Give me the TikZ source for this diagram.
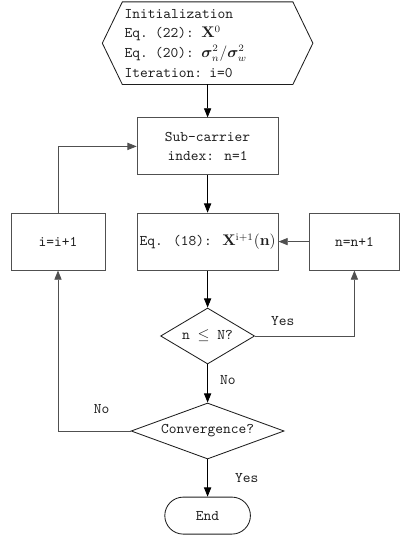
\documentclass[tikz,border=0pt]{standalone}
\usepackage{amsmath,bm}
\usetikzlibrary{arrows.meta,shapes.geometric,shapes.misc}
\definecolor{FlowInk}{HTML}{1E1E1E}
\definecolor{FlowRule}{HTML}{505050}

\begin{document}
\begin{tikzpicture}[
    font=\ttfamily\fontsize{10.5}{14}\selectfont,
    text=FlowInk,
    process/.style={
        draw=FlowRule,
        line width=0.6pt,
        minimum width=3.525cm,
        minimum height=1.425cm,
        align=center,
        inner sep=1pt
    },
    decision/.style={diamond, draw=FlowInk, line width=0.6pt,
                     inner sep=0pt, minimum height=1.4cm},
    terminal/.style={rounded rectangle, draw=FlowInk, line width=0.6pt,
                     minimum width=2.375cm, minimum height=0.925cm},
    flow/.style={-{Triangle[length=2.3mm,width=1.8mm]},
                 draw=black, line width=0.6pt},
    loop/.style={-{Triangle[length=2.3mm,width=1.8mm]},
                 draw=FlowRule, line width=0.6pt},
    branch label/.style={inner sep=0pt}
]
    \useasboundingbox (0,0) rectangle (10.025,-13.375);

    % initialization block (hexagon drawn round the node)
    \node[align=left, text width=4.15cm, inner xsep=0.05cm,
          minimum height=2.05cm] (init) at (5.19,-1.08)
        {Initialization\\
         Eq. (22): $\mathbf{X}^{0}$\\
         Eq. (20): $\bm{\sigma}_{n}^{2}/\bm{\sigma}_{w}^{2}$\\
         Iteration: i=0};
    \draw[draw=FlowInk, line width=0.6pt]
        (init.north west) -- (init.north east)
        -- ([xshift=0.5cm]init.east) -- (init.south east)
        -- (init.south west) -- ([xshift=-0.5cm]init.west) -- cycle;

    \node[process] (sub) at (5.19,-3.66) {Sub-carrier\\index: n=1};
    \node[process] (update) at (5.19,-6.04)
        {Eq. (18): $\mathbf{X}^{\mathrm{i+1}}(\mathbf{n})$};
    \node[process, minimum width=2.35cm] (inci) at (1.45,-6.04) {i=i+1};
    \node[process, minimum width=2.25cm] (incn) at (8.86,-6.04) {n=n+1};

    \node[decision, minimum width=2.35cm, aspect=1.68] (test)
        at (5.19,-8.4) {n $\leq$ N?};
    \node[decision, minimum width=3.825cm, aspect=2.73] (conv)
        at (5.19,-10.775) {Convergence?};
    \node[terminal] (stop) at (5.19,-12.89) {End};

    % main column
    \draw[flow] (init.south) -- (sub.north);
    \draw[flow] (sub.south) -- (update.north);
    \draw[flow] (update.south) -- (test.north);
    \draw[flow] (test.south) -- node[branch label, right=0.3cm, pos=0.42]
        {No} (conv.north);
    \draw[flow] (conv.south) -- node[branch label, right=0.68cm]
        {Yes} (stop.north);

    % inner loop over sub-carriers
    \draw[loop] (test.east) -| node[branch label, above=0.25cm, pos=0.14]
        {Yes} (incn.south);
    \draw[loop] (incn.west) -- (update.east);

    % outer loop over iterations
    \draw[loop] (conv.west) -| node[branch label, above=0.43cm, pos=0.2]
        {No} (inci.south);
    \draw[loop] (inci.north) |- (sub.west);
\end{tikzpicture}
\end{document}
